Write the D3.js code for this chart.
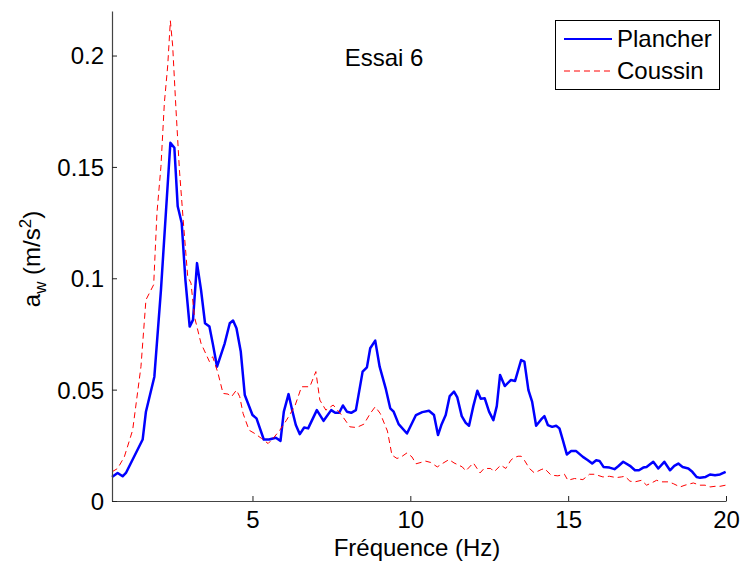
<!DOCTYPE html>
<html>
<head>
<meta charset="utf-8">
<script src="https://cdn.jsdelivr.net/npm/d3@7"></script>
<style>
  body { margin: 0; background: #fff; }
  svg { display: block; font-family: "Liberation Sans", Arial, sans-serif; }
</style>
</head>
<body>
<svg id="chart" width="740" height="562"></svg>
<script>
// Spectrum of weighted acceleration, test 6: floor (Plancher) vs cushion (Coussin)
const plancherFreq = [0.55,0.728,0.886,0.991,1.521,1.625,1.892,2.101,2.260,2.399,2.526,2.631,2.758,2.875,3.011,3.116,3.243,3.370,3.497,3.636,3.750,3.877,4.121,4.280,4.385,4.493,4.629,4.756,5.000,5.127,5.358,5.526,5.739,5.888,5.993,6.142,6.269,6.373,6.500,6.637,6.763,7.039,7.252,7.493,7.620,7.747,7.864,7.991,8.127,8.276,8.489,8.625,8.730,8.888,9.028,9.228,9.364,9.472,9.630,9.894,10.179,10.379,10.591,10.750,10.877,10.982,11.121,11.248,11.384,11.489,11.629,11.755,11.860,11.996,12.123,12.231,12.358,12.494,12.631,12.739,12.843,12.992,13.183,13.319,13.510,13.614,13.741,13.858,13.985,14.144,14.248,14.356,14.493,14.620,14.724,14.832,14.958,15.095,15.254,15.467,15.625,15.761,15.888,15.993,16.120,16.310,16.469,16.586,16.744,16.957,17.116,17.242,17.379,17.483,17.696,17.855,18.045,18.226,18.362,18.489,18.625,18.806,18.933,19.069,19.177,19.354,19.494,19.653,19.811,19.989];
const plancherVal = [0.0108,0.0126,0.0111,0.0126,0.0276,0.0401,0.0558,0.0948,0.1301,0.1608,0.1586,0.1323,0.1248,0.0993,0.0783,0.0813,0.1068,0.0948,0.0798,0.0783,0.0701,0.0603,0.0708,0.0798,0.0810,0.0776,0.0671,0.0476,0.0386,0.0371,0.0276,0.0276,0.0284,0.0270,0.0401,0.0480,0.0401,0.0341,0.0300,0.0330,0.0326,0.0408,0.0360,0.0408,0.0396,0.0396,0.0429,0.0401,0.0396,0.0408,0.0581,0.0600,0.0686,0.0720,0.0603,0.0501,0.0416,0.0401,0.0345,0.0303,0.0386,0.0399,0.0405,0.0386,0.0296,0.0341,0.0386,0.0471,0.0491,0.0465,0.0381,0.0351,0.0338,0.0426,0.0495,0.0459,0.0461,0.0401,0.0363,0.0426,0.0566,0.0516,0.0543,0.0539,0.0633,0.0626,0.0498,0.0446,0.0338,0.0366,0.0381,0.0341,0.0333,0.0338,0.0326,0.0273,0.0209,0.0224,0.0224,0.0198,0.0183,0.0168,0.0183,0.0180,0.0153,0.0150,0.0143,0.0156,0.0176,0.0158,0.0138,0.0138,0.0150,0.0153,0.0176,0.0146,0.0176,0.0138,0.0158,0.0168,0.0153,0.0146,0.0131,0.0108,0.0104,0.0108,0.0119,0.0116,0.0119,0.0131];

const coussinFreq = [0.55,0.728,0.940,1.204,1.467,1.625,1.733,1.870,1.974,2.101,2.209,2.314,2.399,2.472,2.577,2.685,2.821,2.948,3.053,3.161,3.370,3.636,3.741,3.909,4.068,4.226,4.334,4.493,4.597,4.702,4.892,5.073,5.285,5.495,5.653,5.866,6.078,6.342,6.446,6.554,6.817,7.008,7.134,7.325,7.556,7.823,8.086,8.298,8.530,8.730,8.888,9.047,9.275,9.418,9.577,9.703,9.894,10.052,10.179,10.487,10.645,10.855,11.013,11.226,11.384,11.648,11.755,11.996,12.209,12.336,12.548,12.653,12.866,13.024,13.183,13.287,13.414,13.510,13.614,13.773,13.931,14.144,14.248,14.461,14.673,14.883,14.990,15.200,15.467,15.676,15.835,16.101,16.310,16.522,16.681,16.798,16.957,17.116,17.325,17.483,17.642,17.801,17.959,18.172,18.330,18.543,18.701,18.965,19.177,19.336,19.494,19.653,19.811,19.989];
const coussinVal = [0.0131,0.0146,0.0198,0.0318,0.0603,0.0903,0.0933,0.0971,0.1293,0.1503,0.1788,0.1953,0.2156,0.2043,0.1758,0.1488,0.1233,0.1008,0.0978,0.0828,0.0708,0.0626,0.0648,0.0573,0.0483,0.0480,0.0468,0.0498,0.0468,0.0393,0.0318,0.0303,0.0281,0.0258,0.0281,0.0318,0.0363,0.0426,0.0468,0.0513,0.0513,0.0581,0.0453,0.0408,0.0431,0.0386,0.0333,0.0330,0.0345,0.0393,0.0423,0.0393,0.0314,0.0206,0.0191,0.0197,0.0216,0.0198,0.0167,0.0179,0.0173,0.0153,0.0168,0.0186,0.0171,0.0153,0.0135,0.0171,0.0126,0.0146,0.0146,0.0131,0.0161,0.0146,0.0183,0.0195,0.0201,0.0201,0.0183,0.0146,0.0126,0.0141,0.0146,0.0116,0.0113,0.0120,0.0093,0.0101,0.0096,0.0120,0.0120,0.0108,0.0111,0.0105,0.0108,0.0111,0.0089,0.0086,0.0093,0.0071,0.0081,0.0093,0.0086,0.0086,0.0078,0.0063,0.0071,0.0081,0.0071,0.0071,0.0063,0.0066,0.0066,0.0071];

const xTicks = [5, 10, 15, 20];
const yTicks = [0, 0.05, 0.1, 0.15, 0.2];
const xDomain = [0.55, 20];
const yDomain = [0, 0.22];

const series = [
  { name: "Plancher", freq: plancherFreq, val: plancherVal, color: "#0000ff", width: 2.5, dash: null },
  { name: "Coussin",  freq: coussinFreq,  val: coussinVal,  color: "#ff0000", width: 1,   dash: "6,4" }
];

const FONT = 24;
const svg = d3.select("#chart");
const plot = { left: 112, right: 726, top: 11, bottom: 501 };

const x = d3.scaleLinear().domain(xDomain).range([plot.left, plot.right]);
const y = d3.scaleLinear().domain(yDomain).range([plot.bottom, plot.top]);

// Curves
const line = d3.line().x(d => x(d[0])).y(d => y(d[1]));
series.forEach(s => {
  const pts = s.freq.map((f, i) => [f, s.val[i]]);
  svg.append("path")
    .datum(pts)
    .attr("d", line)
    .attr("fill", "none")
    .attr("stroke", s.color)
    .attr("stroke-width", s.width)
    .attr("stroke-linejoin", "round")
    .attr("stroke-dasharray", s.dash);
});

// Axes with inward ticks
const xAxis = d3.axisBottom(x).tickValues(xTicks).tickSizeInner(-5).tickSizeOuter(0)
  .tickFormat(d3.format("d")).tickPadding(10);
const yAxis = d3.axisLeft(y).tickValues(yTicks).tickSizeInner(-5).tickSizeOuter(0)
  .tickFormat(d => d === 0 ? "0" : String(d)).tickPadding(8);

const gx = svg.append("g").attr("transform", `translate(0,${plot.bottom})`).call(xAxis);
const gy = svg.append("g").attr("transform", `translate(${plot.left},0)`).call(yAxis);
[gx, gy].forEach(g => {
  g.attr("font-size", null).attr("font-family", null);
  g.select(".domain").attr("stroke", "#444").attr("stroke-width", 1.2);
  g.selectAll(".tick line").attr("stroke", "#222");
  g.selectAll(".tick text").attr("font-size", FONT).attr("fill", "#000")
    .attr("font-family", "Liberation Sans, Arial, sans-serif");
});
gy.selectAll(".tick text").attr("dy", "0.35em");
gx.selectAll(".tick text").attr("dy", "0.71em");

// Axis titles
svg.append("text")
  .attr("x", 417)
  .attr("y", 556)
  .attr("text-anchor", "middle")
  .attr("font-size", FONT)
  .text("Fréquence (Hz)");

const yl = svg.append("text")
  .attr("transform", `translate(40,259) rotate(-90)`)
  .attr("text-anchor", "middle")
  .attr("font-size", FONT);
yl.append("tspan").text("a");
yl.append("tspan").attr("font-size", 17).attr("dy", 6).text("w");
yl.append("tspan").attr("dy", -6).text(" (m/s");
yl.append("tspan").attr("font-size", 17).attr("dy", -9).text("2");
yl.append("tspan").attr("dy", 9).text(")");

// Plot title
svg.append("text")
  .attr("x", 384)
  .attr("y", 66)
  .attr("text-anchor", "middle")
  .attr("font-size", FONT)
  .text("Essai 6");

// Legend
const lg = svg.append("g");
lg.append("rect")
  .attr("x", 555.5).attr("y", 20.5).attr("width", 164).attr("height", 69)
  .attr("fill", "#fff").attr("stroke", "#000").attr("stroke-width", 1);
series.forEach((s, i) => {
  const cy = 39 + i * 32;
  lg.append("line")
    .attr("x1", 564).attr("x2", 612).attr("y1", cy).attr("y2", cy)
    .attr("stroke", s.color).attr("stroke-width", s.width === 1 ? 1 : 2)
    .attr("stroke-dasharray", s.dash);
  lg.append("text")
    .attr("x", 617).attr("y", cy).attr("dy", "0.35em")
    .attr("font-size", FONT)
    .text(s.name);
});
</script>
</body>
</html>
